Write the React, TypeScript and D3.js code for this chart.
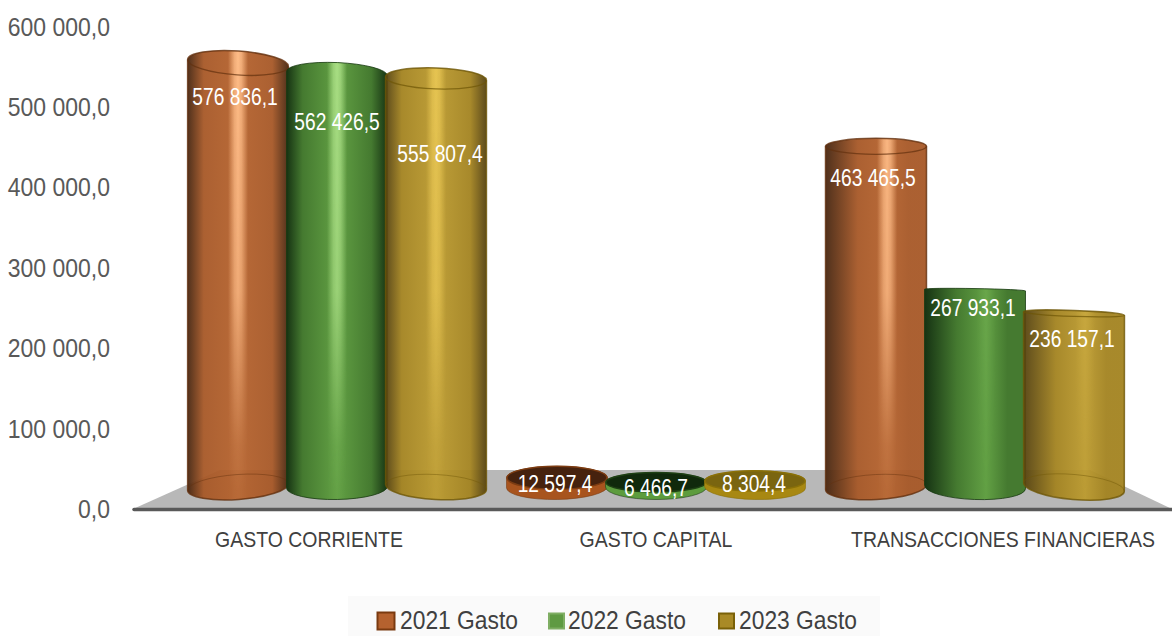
import React from "react";
import * as d3 from "d3";

const categories = ["GASTO CORRIENTE", "GASTO CAPITAL", "TRANSACCIONES FINANCIERAS"];
const seriesNames = ["2021 Gasto", "2022 Gasto", "2023 Gasto"];
const values2021 = [576836.1, 12597.4, 463465.5];
const values2022 = [562426.5, 6466.7, 267933.1];
const values2023 = [555807.4, 8304.4, 236157.1];
const axisTicks = [0, 100000, 200000, 300000, 400000, 500000, 600000];

const seriesValues = [values2021, values2022, values2023];
const W = 1172, H = 636;
const FONT = "'Liberation Sans', Arial, sans-serif";

const fmt = (v: number, dec = 1) => {
  const [a, b] = v.toFixed(dec).split(".");
  return a.replace(/\B(?=(\d{3})+$)/g, " ") + "," + b;
};

const yAxis = d3.scaleLinear().domain([0, 600000]).range([509, 26.5]);
const BASE = 487;
const yBar = d3.scaleLinear().domain([0, 576836.1]).range([BASE, 63]);
const groupX = d3.scaleBand<number>().domain([0, 1, 2]).range([177.5, 1134.5]).paddingInner(0).paddingOuter(0);
const innerX = d3.scaleBand<number>().domain([0, 1, 2]).range([-148.5, 148.5]);
const labelX = d3.scalePoint<string>().domain(categories).range([309, 1003]);
const ryAt = d3.scaleLinear()
  .domain([63, 74, 78, 146, 290, 313, 478, 482, 487])
  .range([12, 11, 10.5, 8, 1.5, 3, 11.5, 9.5, 12.5]);

const colors = [
  { edge: "#472610", side: "#a75827", mid: "#b5622d", hi: "#ffbd88", line: "#63300e", deep: "#46220e", foot: "#a8541e", rim: "#7c3c12" },
  { edge: "#163313", side: "#457a30", mid: "#62a044", hi: "#a9de84", line: "#183a10", deep: "#10290c", foot: "#5d9c3e", rim: "#1e4014" },
  { edge: "#554210", side: "#a38320", mid: "#bb9a2e", hi: "#e6c452", line: "#6e5606", deep: "#7a6510", foot: "#a88812", rim: "#8a7008" },
];
const topTilt = [[4, 2.5, 2], [0, 0, 0], [0, 1, 2]];
const bottomTilt = [[-4, -1, 3], [-1, 0, 1], [-3, 2, 5]];
const barOpacity = [0.95, 1, 0.95];
const highlightPos = [0.5, 0.5, 0.61];
const highlightStrength = [[1, 1, 1], [0, 0, 0], [1, 0.12, 0.3]];
const labelNudgeX = [[-3, 0, 4], [-2, 0, -1], [-3, -2, -2]];
const labelMidY = [[97, 122, 154], [484, 488, 484], [178, 308, 339]];

const RX = 50.5;
const ends = (cx: number, cy: number, rx: number, t: number) => {
  const r = (t * Math.PI) / 180;
  return { lx: cx - rx * Math.cos(r), ly: cy - rx * Math.sin(r), rx_: cx + rx * Math.cos(r), ry_: cy + rx * Math.sin(r) };
};

function T({ x, y, size, sx = 0.9, anchor = "middle", fill, children }: any) {
  return (
    <text transform={`translate(${x},${y}) scale(${sx},1)`} fontFamily={FONT} fontSize={size} textAnchor={anchor} fill={fill} dominantBaseline="central">
      {children}
    </text>
  );
}

function Bar({ g, s }: { g: number; s: number }) {
  const v = seriesValues[s][g];
  const c = colors[s];
  const cx = (groupX(g) as number) + groupX.bandwidth() / 2 + (innerX(s) as number) + innerX.bandwidth() / 2;
  const yTop = yBar(v);
  const ryT = ryAt(yTop);
  const ryB = 12.5;
  const tT = topTilt[g][s];
  const tB = bottomTilt[g][s];
  const a = ends(cx, yTop, RX, tT);
  const b = ends(cx, BASE, RX, tB);
  const body = `M${a.lx},${a.ly} L${b.lx},${b.ly} A${RX},${ryB} ${tB} 0 0 ${b.rx_},${b.ry_} L${a.rx_},${a.ry_} A${RX},${ryT} ${tT} 0 0 ${a.lx},${a.ly} Z`;
  const frontTop = `M${a.lx},${a.ly} A${RX},${ryT} ${tT} 0 0 ${a.rx_},${a.ry_}`;
  const backBottom = `M${b.lx},${b.ly} A${RX},${ryB} ${tB} 0 1 ${b.rx_},${b.ry_}`;
  const id = `b${g}${s}`;
  const hp = highlightPos[g];
  const hs = highlightStrength[g][s];
  const small = g === 1;
  return (
    <g>
      <defs>
        <linearGradient id={id} x1="0" x2="1" y1="0" y2="0">
          <stop offset="0" stopColor={c.edge} />
          <stop offset={g === 2 ? 0.32 : 0.16} stopColor={c.side} />
          <stop offset={hp} stopColor={c.mid} />
          <stop offset={g === 2 ? 0.82 : 0.84} stopColor={c.side} />
          <stop offset="1" stopColor={g === 2 ? c.side : c.edge} />
        </linearGradient>
        <linearGradient id={id + "h"} x1="0" x2="1" y1="0" y2="0">
          <stop offset={hp - 0.1} stopColor={c.hi} stopOpacity="0" />
          <stop offset={hp - 0.035} stopColor={c.hi} stopOpacity="0.8" />
          <stop offset={hp} stopColor={c.hi} stopOpacity="1" />
          <stop offset={hp + 0.035} stopColor={c.hi} stopOpacity="0.8" />
          <stop offset={hp + 0.1} stopColor={c.hi} stopOpacity="0" />
        </linearGradient>
      </defs>
      {small ? (
        <>
          <path d={body} fill={c.foot} stroke={c.rim} strokeWidth={0.6} />
          <ellipse cx={cx} cy={yTop} rx={RX - 0.5} ry={ryT} fill={c.deep} stroke={c.rim} strokeWidth={1.5} />
        </>
      ) : (
        <>
          <path d={body} fill={`url(#${id})`} opacity={barOpacity[s]} />
          {hs > 0 && <path d={body} fill={`url(#${id}h)`} opacity={hs} mask="url(#fadeMask)" />}
          <path d={body} fill="none" stroke={c.line} strokeWidth={s === 1 ? 1 : 1.5} strokeOpacity={0.8} />
          {s !== 1 && <path d={frontTop} fill="none" stroke={c.line} strokeWidth={1.3} strokeOpacity={0.7} />}
          {s !== 1 && <path d={backBottom} fill="none" stroke={c.line} strokeWidth={1} strokeOpacity={0.45} />}
        </>
      )}
    </g>
  );
}

export default function App() {
  const legendBoxes = [
    { x: 377.5, w: 17 },
    { x: 549, w: 15 },
    { x: 719, w: 15 },
  ];
  const legendText = [400, 568, 739];
  return (
    <div style={{ position: "fixed", left: 0, top: 0, width: W, height: H }}>
      <svg width={W} height={H} viewBox={`0 0 ${W} ${H}`} style={{ display: "block", background: "#fff" }}>
        <defs>
          <linearGradient id="fadeGrad" gradientUnits="userSpaceOnUse" x1="0" x2="0" y1="50" y2="490">
            <stop offset="0" stopColor="#fff" stopOpacity="1" />
            <stop offset="0.55" stopColor="#fff" stopOpacity="0.8" />
            <stop offset="0.9" stopColor="#fff" stopOpacity="0.12" />
            <stop offset="1" stopColor="#fff" stopOpacity="0.05" />
          </linearGradient>
          <mask id="fadeMask" maskUnits="userSpaceOnUse" x="0" y="0" width={W} height={H}>
            <rect width={W} height={H} fill="url(#fadeGrad)" />
          </mask>
        </defs>

        <polygon points="133,509 220,470 1090,470 1172,509" fill="#b8b8b8" />
        <line x1={134} x2={1172} y1={509.5} y2={509.5} stroke="#595959" strokeWidth={3.5} strokeLinecap="round" />

        {axisTicks.map((t) => (
          <T key={t} x={110} y={yAxis(t)} size={26} sx={0.884} anchor="end" fill="#595959">{fmt(t)}</T>
        ))}

        {categories.map((_, g) => seriesNames.map((__, s) => <Bar key={`${g}${s}`} g={g} s={s} />))}

        {categories.map((_, g) =>
          seriesNames.map((__, s) => {
            const cx = (groupX(g) as number) + groupX.bandwidth() / 2 + (innerX(s) as number) + innerX.bandwidth() / 2;
            return (
              <T key={`l${g}${s}`} x={cx + labelNudgeX[g][s]} y={labelMidY[g][s]} size={23} sx={0.835} fill="#fff">
                {fmt(seriesValues[s][g])}
              </T>
            );
          })
        )}

        {categories.map((c) => (
          <T key={c} x={labelX(c)} y={539} size={22} sx={0.885} fill="#404040">{c}</T>
        ))}

        <rect x={348} y={596} width={532} height={40} fill="#fafafa" />
        {seriesNames.map((n, i) => (
          <g key={n}>
            <rect
              x={legendBoxes[i].x}
              y={621 - legendBoxes[i].w / 2}
              width={legendBoxes[i].w}
              height={legendBoxes[i].w}
              fill={["#b5622f", "#5f9a42", "#a98a26"][i]}
              stroke={["#7a3a10", "#7fae63", "#7a6108"][i]}
              strokeWidth={2}
            />
            <T x={legendText[i]} y={620} size={26} sx={0.878} anchor="start" fill="#404040">{n}</T>
          </g>
        ))}
      </svg>
    </div>
  );
}
